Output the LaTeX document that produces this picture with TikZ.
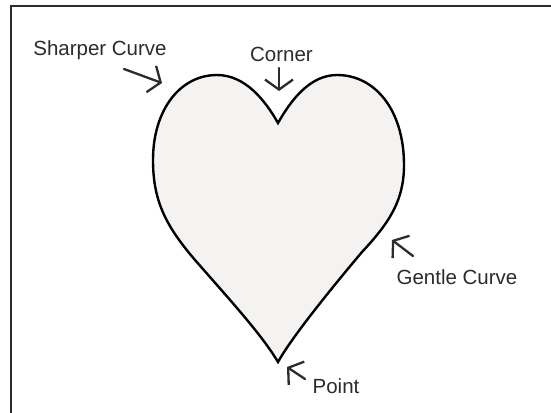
\documentclass[tikz,border=0pt]{standalone}
\usepackage{fontspec}
\setmainfont{Liberation Sans}
\usetikzlibrary{arrows.meta}
\definecolor{ink}{HTML}{2B2B2B}
\definecolor{heartfill}{HTML}{F4F3F2}
\tikzset{
  lbl/.style={text=ink, font=\fontsize{20.5}{23}\selectfont, inner sep=0pt, anchor=center},
  pointer/.style={draw=ink, line width=2.3pt, line cap=round, line join=round,
    -{Straight Barb[length=10pt, width=28pt, line width=2.3pt]}},
  outline/.style={draw=black, line width=2.4pt, fill=heartfill, line join=miter, miter limit=20},
  frame/.style={draw=ink, line width=1.4pt}
}
\begin{document}
\begin{tikzpicture}[x=1pt, y=-1pt]
\useasboundingbox (0,0) rectangle (551,412);
\begin{scope}
\clip (0,0) rectangle (551,412);
\draw[frame] (11,6) rectangle (600,460);
\end{scope}
% heart
\coordinate (notch) at (278,123);
\coordinate (bottom) at (278,362);
\draw[outline] (notch)
  .. controls (265,100) and (245,75) .. (217,75)
  .. controls (180,75) and (153,110) .. (153,160)
  .. controls (153,200) and (165,225) .. (195,260)
  .. controls (230,300) and (262,335) .. (bottom)
  .. controls (292,337) and (330,290) .. (362,252)
  .. controls (390,222) and (404,200) .. (404,165)
  .. controls (404,110) and (375,75) .. (337,75)
  .. controls (310,75) and (291,100) .. cycle;
% labels
\node[lbl] (sharper) at (100,50) {Sharper Curve};
\node[lbl] (corner) at (281.5,54.5) {Corner};
\node[lbl] (gentle) at (457,277.5) {Gentle Curve};
\node[lbl] (point) at (336,386) {Point};
% pointers
\coordinate (s0) at (124,69);  \coordinate (s1) at (162,83);
\coordinate (c0) at (279,68);  \coordinate (c1) at (279,91);
\coordinate (g0) at (413,256); \coordinate (g1) at (392,240);
\coordinate (p0) at (305,379); \coordinate (p1) at (287,367);
\draw[pointer] (s0) -- (s1);
\draw[pointer] (c0) -- (c1);
\draw[pointer] (g0) -- (g1);
\draw[pointer] (p0) -- (p1);
\end{tikzpicture}
\end{document}
